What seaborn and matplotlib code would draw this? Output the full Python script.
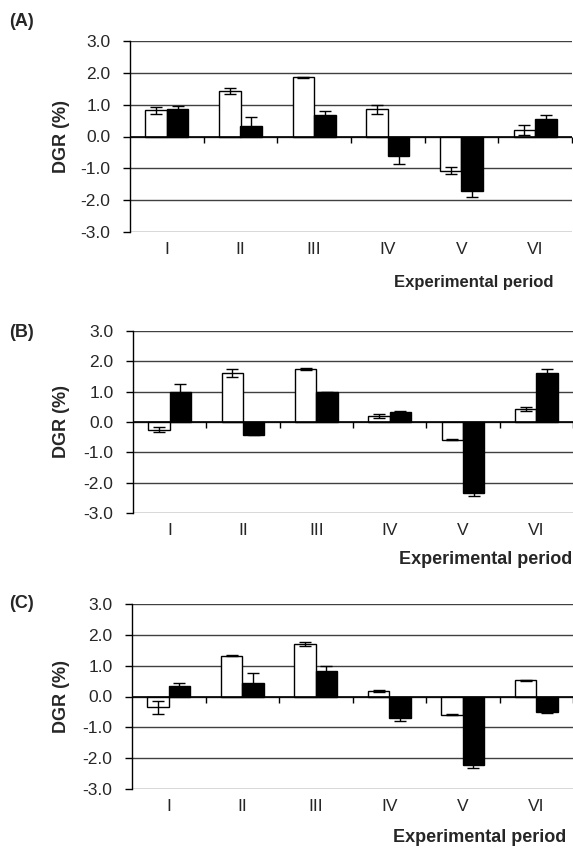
import matplotlib
matplotlib.use('Agg')
import matplotlib.pyplot as plt
from matplotlib.ticker import FormatStrFormatter
import seaborn as sns
import pandas as pd
import numpy as np

# ---------------- data ----------------
periods = ['I', 'II', 'III', 'IV', 'V', 'VI']
groups = ['Group 1', 'Group 2']   # open bars, filled bars

a_open = [0.82, 1.43, 1.86, 0.85, -1.07, 0.20]
a_open_err = [0.12, 0.09, 0.02, 0.13, 0.11, 0.15]
a_fill = [0.86, 0.34, 0.66, -0.61, -1.72, 0.56]
a_fill_err = [0.11, 0.27, 0.14, 0.25, 0.19, 0.10]

b_open = [-0.25, 1.62, 1.75, 0.19, -0.58, 0.43]
b_open_err = [0.09, 0.13, 0.02, 0.07, 0.02, 0.08]
b_fill = [1.00, -0.42, 0.98, 0.33, -2.35, 1.62]
b_fill_err = [0.24, 0.01, 0.02, 0.02, 0.09, 0.14]

c_open = [-0.35, 1.32, 1.71, 0.19, -0.59, 0.52]
c_open_err = [0.21, 0.02, 0.06, 0.03, 0.02, 0.03]
c_fill = [0.35, 0.45, 0.83, -0.70, -2.23, -0.50]
c_fill_err = [0.08, 0.30, 0.15, 0.09, 0.09, 0.05]

y_ticks = [-3.0, -2.0, -1.0, 0.0, 1.0, 2.0, 3.0]
panel_labels = ['(A)', '(B)', '(C)']
y_label = 'DGR (%)'
x_label = 'Experimental period'

# ---------------- style ----------------
sns.set_theme(style='white')
plt.rcParams['font.family'] = ['Liberation Sans', 'DejaVu Sans']
plt.rcParams['axes.unicode_minus'] = False

W, H = 573, 848
fig = plt.figure(figsize=(W / 100, H / 100), dpi=100)


def px_axes(left, top, right, bottom):
    return fig.add_axes([left / W, 1 - bottom / H, (right - left) / W, (bottom - top) / H])


def draw_panel(ax, open_v, open_e, fill_v, fill_e):
    df = pd.DataFrame({
        'period': periods * 2,
        'group': [groups[0]] * len(periods) + [groups[1]] * len(periods),
        'DGR': list(open_v) + list(fill_v),
    })
    sns.barplot(data=df, x='period', y='DGR', hue='group', order=periods,
                hue_order=groups, palette={groups[0]: 'white', groups[1]: 'black'},
                edgecolor='black', linewidth=1.0, width=0.58, errorbar=None,
                saturation=1, legend=False, ax=ax, zorder=2)
    for cont, vals, errs in zip(ax.containers, [open_v, fill_v], [open_e, fill_e]):
        xs = [b.get_x() + b.get_width() / 2 for b in cont]
        ax.errorbar(xs, vals, yerr=errs, fmt='none', ecolor='black',
                    elinewidth=1.0, capsize=4.5, capthick=1.0, zorder=4)
    ax.set_xlim(-0.5, len(periods) - 0.5)
    ax.set_ylim(-3, 3)
    ax.set_yticks(y_ticks)
    ax.yaxis.set_major_formatter(FormatStrFormatter('%.1f'))
    ax.yaxis.grid(True, color='#404040', lw=1.0)
    ax.xaxis.grid(False)
    ax.set_axisbelow(True)
    ax.axhline(0, color='black', lw=1.2, zorder=3)
    ax.vlines(np.arange(0.5, len(periods), 1.0), -0.2, 0, color='black', lw=1.0,
              zorder=3, clip_on=False)
    for s in ['top', 'right', 'bottom']:
        ax.spines[s].set_visible(False)
    ax.spines['left'].set_color('black')
    ax.spines['left'].set_linewidth(1.0)
    ax.tick_params(axis='y', direction='out', length=5, width=1, color='black',
                   pad=9, labelsize=12.5, left=True)
    ax.tick_params(axis='x', length=0, pad=7, labelsize=12.5)
    ax.set_xlabel('')
    ax.set_ylabel('')
    ax.set_facecolor('white')


axA = px_axes(130, 41, 572, 232)
axB = px_axes(133, 331, 573, 513)
axC = px_axes(132, 604, 573, 789)

draw_panel(axA, a_open, a_open_err, a_fill, a_fill_err)
draw_panel(axB, b_open, b_open_err, b_fill, b_fill_err)
draw_panel(axC, c_open, c_open_err, c_fill, c_fill_err)

# y labels
for yc in [136.5, 422, 696.5]:
    fig.text(62 / W, 1 - yc / H, y_label, rotation=90, ha='center', va='center',
             fontsize=13, fontweight='bold')

# panel letters
for lab, yc in zip(panel_labels, [21, 332, 603]):
    fig.text(9 / W, 1 - yc / H, lab, ha='left', va='center', fontsize=13,
             fontweight='bold')

# x labels
for xr, yc, fs in [(553, 282, 12), (572, 560, 13), (566, 838, 13)]:
    fig.text(xr / W, 1 - yc / H, x_label, ha='right', va='center', fontsize=fs,
             fontweight='bold')

fig.savefig('out.png', dpi=100, facecolor='white')
